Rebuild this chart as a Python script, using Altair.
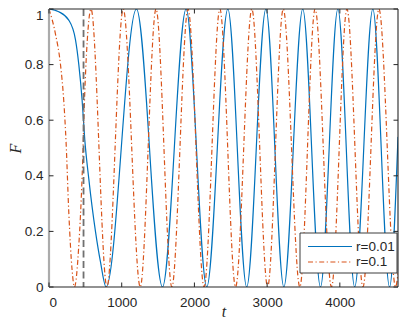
import altair as alt
import pandas as pd

# ---- data ----
x_ticks = [0, 1000, 2000, 3000, 4000]
y_ticks = [0, 0.2, 0.4, 0.6, 0.8, 1]
series_names = ["r=0.01", "r=0.1"]
vline_t = [475]

blue_t = [0, 134, 272, 364, 410, 456, 492, 547, 639, 708, 785,
          1203, 1561, 1886, 2170, 2460, 2719, 2983, 3230, 3490, 3734,
          3973, 4204, 4454, 4684, 4800]
blue_F = [1, 0.99, 0.96, 0.89, 0.80, 0.67, 0.53, 0.39, 0.20, 0.09, 0,
          1, 0, 1, 0, 1, 0, 1, 0, 1, 0,
          1, 0, 1, 0, 0.54]

orange_t = [0, 89, 158, 203, 235, 272, 318, 350, 410, 456, 492, 538, 578,
            797, 1021, 1255, 1472, 1690, 1912, 2133, 2350, 2566, 2790, 3007,
            3222, 3450, 3660, 3885, 4098, 4318, 4538, 4767, 4800]
orange_F = [1, 0.91, 0.80, 0.67, 0.52, 0.27, 0.06, 0, 0.15, 0.40, 0.70, 0.93, 1,
            0, 1, 0, 1, 0, 1, 0, 1, 0, 1, 0,
            1, 0, 1, 0, 1, 0, 1, 0, 0.05]

# ---- styling ----
W, H = 349, 278
BLUE = "#0072BD"
ORANGE = "#D95319"
AX = "#262626"
FONT = "Liberation Sans"
DASHDOT = [5, 2.5, 1.2, 2.5]

x_scale = alt.Scale(domain=[0, 4800], nice=False, zero=False)
y_scale = alt.Scale(domain=[0, 1], nice=False, zero=False)

x_axis = alt.Axis(values=x_ticks, title="t", ticks=False, domain=False, grid=False,
                  labelFont=FONT, labelFontSize=13.5, labelColor=AX, labelPadding=8,
                  titleFont="Liberation Serif", titleFontStyle="italic",
                  titleFontWeight="normal", titleFontSize=16, titleColor=AX,
                  titleBaseline="alphabetic", titleY=29.5, format="d")
y_axis = alt.Axis(values=y_ticks, title="F", ticks=False, domain=False, grid=False,
                  labelFont=FONT, labelFontSize=13.5, labelColor=AX, labelPadding=6,
                  labelOffset={"condition": {"test": "datum.value == 1", "value": 6}, "value": 0},
                  titleFont="Liberation Serif", titleFontStyle="italic",
                  titleFontWeight="normal", titleFontSize=16, titleColor=AX,
                  titleBaseline="alphabetic", titleX=-28.5,
                  labelExpr="datum.value == 0 ? '0' : datum.value == 1 ? '1' : format(datum.value, '.1f')")

def X(field="t"):
    return alt.X(f"{field}:Q", scale=x_scale, axis=x_axis)

def Y(field="F"):
    return alt.Y(f"{field}:Q", scale=y_scale, axis=y_axis)

df_blue = pd.DataFrame({"t": blue_t, "F": blue_F})
df_orange = pd.DataFrame({"t": orange_t, "F": orange_F})
df_xt = pd.DataFrame({"t": x_ticks})
df_yt = pd.DataFrame({"F": y_ticks})
df_v = pd.DataFrame({"t": vline_t})

blue = alt.Chart(df_blue).mark_line(interpolate="monotone", color=BLUE, strokeWidth=1.2, clip=True).encode(x=X(), y=Y())
orange = alt.Chart(df_orange).mark_line(interpolate="monotone", color=ORANGE, strokeWidth=1.2,
                                        strokeDash=DASHDOT, clip=True).encode(x=X(), y=Y())

vline = alt.Chart(df_v).mark_rule(color="#707070", strokeWidth=1.8, strokeDash=[7, 3.5]).encode(
    x=X(), y=alt.value(0), y2=alt.value(H))

# frame
frame_top = alt.Chart(df_v).mark_rule(color=AX, strokeWidth=1.1).encode(x=alt.value(0), x2=alt.value(W), y=alt.value(0))
frame_bottom = alt.Chart(df_v).mark_rule(color=AX, strokeWidth=1.1).encode(x=alt.value(0), x2=alt.value(W), y=alt.value(H))
frame_right = alt.Chart(df_v).mark_rule(color=AX, strokeWidth=1.1).encode(x=alt.value(W), y=alt.value(0), y2=alt.value(H))
frame_left = alt.Chart(df_v).mark_rule(color="#ababab", strokeWidth=2.2).encode(x=alt.value(0), y=alt.value(0), y2=alt.value(H))

# inward ticks
TL = 4.5
xt_bottom = alt.Chart(df_xt).mark_rule(color=AX, strokeWidth=1).encode(x=X(), y=alt.value(H), y2=alt.value(H - TL))
xt_top = alt.Chart(df_xt).mark_rule(color=AX, strokeWidth=1).encode(x=X(), y=alt.value(0), y2=alt.value(TL))
yt_left = alt.Chart(df_yt).mark_rule(color=AX, strokeWidth=1).encode(y=Y(), x=alt.value(0), x2=alt.value(TL))
yt_right = alt.Chart(df_yt).mark_rule(color=AX, strokeWidth=1).encode(y=Y(), x=alt.value(W), x2=alt.value(W - TL))

# legend
LX0, LX1, LY0, LY1 = 251, 348, 224, 264
ROW1, ROW2 = 237.5, 253
df_leg1 = pd.DataFrame({"name": [series_names[0]]})
df_leg2 = pd.DataFrame({"name": [series_names[1]]})
leg_box = alt.Chart(df_leg1).mark_rect(fill="white", stroke=AX, strokeWidth=0.9).encode(
    x=alt.value(LX0), x2=alt.value(LX1), y=alt.value(LY0), y2=alt.value(LY1))
leg_l1 = alt.Chart(df_leg1).mark_rule(color=BLUE, strokeWidth=1.2).encode(
    x=alt.value(259), x2=alt.value(303), y=alt.value(ROW1))
leg_l2 = alt.Chart(df_leg2).mark_rule(color=ORANGE, strokeWidth=1.2, strokeDash=DASHDOT).encode(
    x=alt.value(259), x2=alt.value(303), y=alt.value(ROW2))
leg_t1 = alt.Chart(df_leg1).mark_text(align="left", baseline="middle", font=FONT, fontSize=13.5, color=AX).encode(
    x=alt.value(307), y=alt.value(ROW1), text="name:N")
leg_t2 = alt.Chart(df_leg2).mark_text(align="left", baseline="middle", font=FONT, fontSize=13.5, color=AX).encode(
    x=alt.value(307), y=alt.value(ROW2), text="name:N")

chart = alt.layer(
    blue, orange, vline,
    frame_top, frame_bottom, frame_right, frame_left,
    xt_bottom, xt_top, yt_left, yt_right,
    leg_box, leg_l1, leg_l2, leg_t1, leg_t2,
).properties(
    width=W, height=H,
    autosize=alt.AutoSizeParams(type="none"),
    padding={"left": 41, "top": 1, "right": 8, "bottom": 36},
    background="white",
).configure_view(stroke=None)

chart.save("out.html", embed_options={"renderer": "svg", "actions": False})
